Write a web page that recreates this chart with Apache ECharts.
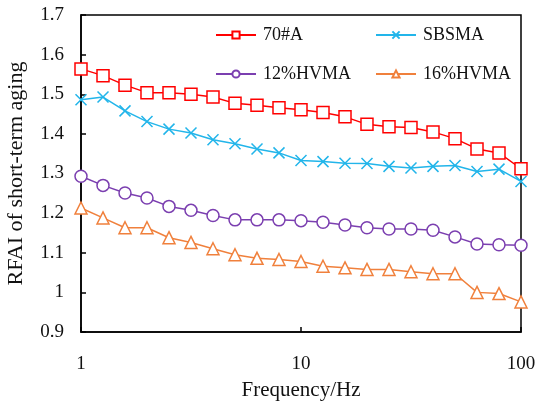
<!DOCTYPE html>
<html>
<head>
<meta charset="utf-8">
<style>html,body{margin:0;padding:0;background:#fff;}#c{width:537px;height:403px;}</style>
<script src="https://cdn.jsdelivr.net/npm/echarts@6/dist/echarts.min.js"></script>
</head>
<body>
<div id="c"></div>
<script>
var freqs = [1, 1.259, 1.585, 1.995, 2.512, 3.162, 3.981, 5.012, 6.31, 7.943, 10, 12.59, 15.85, 19.95, 25.12, 31.62, 39.81, 50.12, 63.1, 79.43, 100];
var s70A = [1.564, 1.547, 1.523, 1.504, 1.504, 1.500, 1.493, 1.477, 1.472, 1.466, 1.461, 1.454, 1.443, 1.424, 1.418, 1.416, 1.405, 1.388, 1.362, 1.352, 1.312];
var sSBSMA = [1.486, 1.493, 1.458, 1.431, 1.412, 1.402, 1.385, 1.375, 1.362, 1.352, 1.333, 1.330, 1.326, 1.325, 1.318, 1.314, 1.318, 1.320, 1.305, 1.311, 1.280];
var s12 = [1.293, 1.270, 1.251, 1.238, 1.217, 1.207, 1.194, 1.183, 1.183, 1.183, 1.181, 1.177, 1.170, 1.163, 1.160, 1.160, 1.157, 1.140, 1.122, 1.120, 1.119];
var s16 = [1.213, 1.188, 1.163, 1.163, 1.138, 1.126, 1.110, 1.095, 1.086, 1.083, 1.078, 1.066, 1.062, 1.058, 1.058, 1.052, 1.047, 1.047, 1.000, 0.997, 0.976];
var names = ['70#A', 'SBSMA', '12%HVMA', '16%HVMA'];
var colors = ['#ff0000', '#22b5ea', '#7b3fb0', '#f0803c'];
var symbols = ['rect', 'path://M0,0L10,10M10,0L0,10', 'circle', 'triangle'];
var yTicks = { min: 0.9, max: 1.7, interval: 0.1 };

function pairs(vals) { return freqs.map(function (f, i) { return [f, vals[i]]; }); }
var allVals = [s70A, sSBSMA, s12, s16];

var FONT = 'Liberation Serif';
var series = allVals.map(function (v, k) {
  return {
    name: names[k],
    type: 'line',
    data: pairs(v),
    symbol: symbols[k],
    symbolSize: k === 1 ? 11 : 12,
    showAllSymbol: true,
    lineStyle: { color: colors[k], width: 1.5 },
    itemStyle: { color: k === 1 ? colors[k] : '#fff', borderColor: colors[k], borderWidth: 1.5 },
    emphasis: { disabled: true },
    z: 10 - k
  };
});

var legendPos = [[215, 26], [375, 26], [215, 65], [375, 65]];
var legends = names.map(function (n, k) {
  return {
    data: [n],
    left: legendPos[k][0],
    top: legendPos[k][1],
    itemWidth: 40,
    itemHeight: 9,
    itemGap: 0,
    padding: 0,
    textStyle: { fontFamily: FONT, fontSize: 18, color: '#111', padding: [0, 0, 0, 2] },
    selectedMode: false
  };
});

var chart = echarts.init(document.getElementById('c'), null, { renderer: 'canvas' });
chart.setOption({
  animation: false,
  backgroundColor: '#fff',
  legend: legends,
  grid: { left: 81, right: 16, top: 15, bottom: 71, outerBoundsMode: 'none', containLabel: false, show: true, borderColor: '#000', borderWidth: 1.5, backgroundColor: 'transparent' },
  xAxis: {
    type: 'log', logBase: 10, min: 1, max: 100,
    name: 'Frequency/Hz', nameLocation: 'middle', nameGap: 48,
    nameTextStyle: { fontFamily: FONT, fontSize: 21, color: '#111' },
    axisLine: { lineStyle: { color: '#000', width: 1.5 } },
    axisTick: { inside: true, length: 5, lineStyle: { color: '#000', width: 1.5 } },
    minorTick: { show: false },
    splitLine: { show: false },
    axisLabel: { fontFamily: FONT, fontSize: 19, color: '#111', margin: 23 }
  },
  yAxis: {
    type: 'value', min: yTicks.min, max: yTicks.max, interval: yTicks.interval,
    name: 'RFAI of short-term aging', nameLocation: 'middle', nameGap: 54, nameRotate: 90,
    nameTextStyle: { fontFamily: FONT, fontSize: 22, color: '#111' },
    axisLine: { show: true, lineStyle: { color: '#000', width: 1.5 } },
    axisTick: { show: true, inside: true, length: 5, lineStyle: { color: '#000', width: 1.5 } },
    splitLine: { show: false },
    axisLabel: { fontFamily: FONT, fontSize: 19, color: '#111', margin: 17,
      formatter: function (v) { return String(Math.round(v * 10) / 10); } }
  },
  series: series
});
</script>
</body>
</html>
